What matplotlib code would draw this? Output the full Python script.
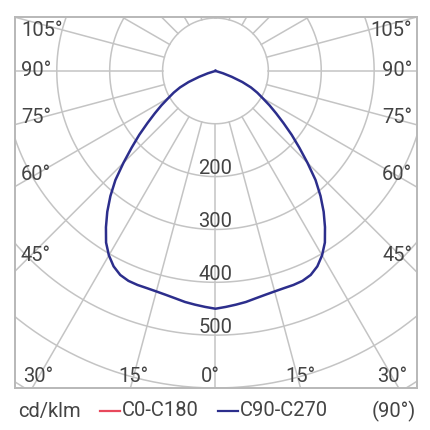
import numpy as np
import matplotlib.pyplot as plt
from matplotlib.lines import Line2D

# luminous intensity (cd/klm) of the C90-C270 plane, symmetric, read every 2.5 deg
angles = [0, 2.5, 5, 7.5, 10, 12.5, 15, 17.5, 20, 22.5, 25, 27.5, 30, 32.5, 35, 37.5,
          40, 42.5, 45, 47.5, 50, 52.5, 55, 57.5, 60, 62.5, 65, 67.5, 70, 72.5, 75,
          77.5, 80, 82.5, 85, 87.5, 90]
intensity = [450, 447, 444, 441, 437, 434, 432, 431, 431, 430, 426, 417, 403, 385, 361, 336,
             309, 280, 246, 215, 188, 162, 140, 121, 103, 89, 74, 55, 33, 15, 0,
             0, 0, 0, 0, 0, 0]

rings = [100, 200, 300, 400, 500, 600, 700, 800]
ring_labels = [200, 300, 400, 500]
spokes = np.arange(0, 360, 15)

side_labels = ['105°', '90°', '75°', '60°', '45°']
side_y = [77, 0, -88, -196, -350]
bottom_labels = ['30°', '15°', '0°', '15°', '30°']
bottom_x = [-336, -156, -10, 160, 335]

grid_col = '#c4c4c4'
text_col = '#444444'
blue = '#2c2e8c'
red = '#e8485c'
fam = ['Roboto', 'DejaVu Sans']
fs = 14.5

fig = plt.figure(figsize=(4.3, 4.3), dpi=100)
ax = fig.add_axes([15 / 430, 42 / 430, 402 / 430, 371 / 430])
ax.set_xlim(-379, 381)
ax.set_ylim(-600, 102)
ax.set_xticks([])
ax.set_yticks([])
for s in ax.spines.values():
    s.set_color('#b8b8b8')
    s.set_linewidth(1.4)

# grid: circles and spokes (spokes start at the 100 ring)
t = np.linspace(0, 2 * np.pi, 400)
for r in rings:
    ax.plot(r * np.sin(t), r * np.cos(t), color=grid_col, lw=1.1, zorder=1)
for a in spokes:
    ra = np.radians(a)
    ax.plot([100 * np.sin(ra), 900 * np.sin(ra)], [-100 * np.cos(ra), -900 * np.cos(ra)],
            color=grid_col, lw=1.1, zorder=1)

# curve, mirrored to both sides
th = np.radians(np.array(angles, dtype=float))
I = np.array(intensity, dtype=float)
th_full = np.concatenate([-th[::-1], th[1:]])
I_full = np.concatenate([I[::-1], I[1:]])
ax.plot(I_full * np.sin(th_full), -I_full * np.cos(th_full), color=blue, lw=1.8,
        solid_joinstyle='round', zorder=3)

for v in ring_labels:
    ax.text(0, -v + 5, str(v), ha='center', va='baseline', color=text_col,
            fontsize=fs, family=fam, zorder=4)

for lab, y in zip(side_labels, side_y):
    ax.text(-368, y, lab, ha='left', va='center', color=text_col, fontsize=fs, family=fam, zorder=4)
    ax.text(372, y, lab, ha='right', va='center', color=text_col, fontsize=fs, family=fam, zorder=4)
for lab, x in zip(bottom_labels, bottom_x):
    ax.text(x, -578, lab, ha='center', va='center', color=text_col, fontsize=fs, family=fam, zorder=4)

# legend row
yl = 1 - 411 / 430
fig.text(18 / 430, yl, 'cd/klm', ha='left', va='center', color=text_col, fontsize=fs, family=fam)
fig.add_artist(Line2D([100 / 430, 120 / 430], [yl, yl], color=red, lw=1.6))
fig.text(122 / 430, yl, 'C0-C180', ha='left', va='center', color=text_col, fontsize=fs, family=fam)
fig.add_artist(Line2D([218 / 430, 238 / 430], [yl, yl], color=blue, lw=1.6))
fig.text(240 / 430, yl, 'C90-C270', ha='left', va='center', color=text_col, fontsize=fs, family=fam)
fig.text(416 / 430, yl, '(90°)', ha='right', va='center', color=text_col, fontsize=fs, family=fam)

fig.savefig('out.png', dpi=100)
